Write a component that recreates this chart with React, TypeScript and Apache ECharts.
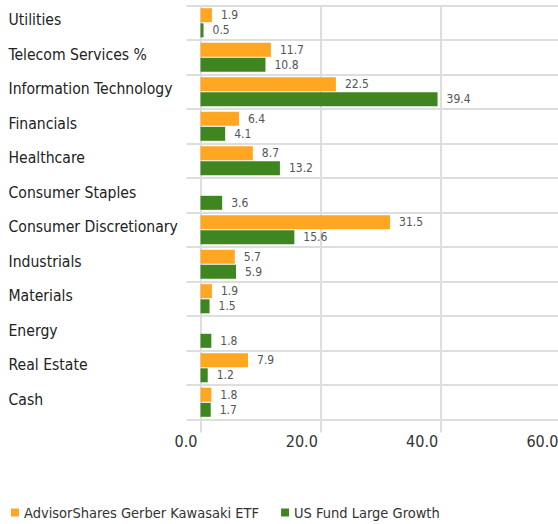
import React, { useEffect, useRef } from "react";
import * as echarts from "echarts";

const categories = [
  "Utilities",
  "Telecom Services %",
  "Information Technology",
  "Financials",
  "Healthcare",
  "Consumer Staples",
  "Consumer Discretionary",
  "Industrials",
  "Materials",
  "Energy",
  "Real Estate",
  "Cash",
];
const fundName = "AdvisorShares Gerber Kawasaki ETF";
const peerName = "US Fund Large Growth";
const fundValues: (number | null)[] = [1.9, 11.7, 22.5, 6.4, 8.7, null, 31.5, 5.7, 1.9, null, 7.9, 1.8];
const peerValues: (number | null)[] = [0.5, 10.8, 39.4, 4.1, 13.2, 3.6, 15.6, 5.9, 1.5, 1.8, 1.2, 1.7];
const xTicks = { min: 0, max: 60, interval: 20 };

const FONT = "'Liberation Sans Narrow', 'DejaVu Sans Condensed', Roboto, sans-serif";
const GRID = "#dedede";

export default function App() {
  const ref = useRef<HTMLDivElement>(null);
  useEffect(() => {
    if (!ref.current) return;
    const chart = echarts.init(ref.current, undefined, { renderer: "svg" });
    const label = {
      show: true,
      position: "right" as const,
      distance: 9,
      fontSize: 12,
      color: "#555",
      fontFamily: FONT,
      formatter: (p: any) => (p.value == null ? "" : Number(p.value).toFixed(1)),
    };
    chart.setOption({
      animation: false,
      textStyle: { fontFamily: FONT },
      grid: {
        left: 200.5,
        top: 5.5,
        width: 361,
        height: 414,
        containLabel: false,
        outerBoundsMode: "none",
      },
      legend: {
        left: 6,
        top: 500,
        icon: "rect",
        itemWidth: 8,
        itemHeight: 8,
        itemGap: 22,
        textStyle: { fontSize: 14.5, color: "#333", fontFamily: FONT },
        data: [fundName, peerName],
      },
      xAxis: {
        type: "value",
        min: xTicks.min,
        max: xTicks.max,
        interval: xTicks.interval,
        axisLine: { show: false },
        axisTick: { show: true, length: 13, lineStyle: { color: GRID, width: 2 } },
        splitLine: { show: true, lineStyle: { color: GRID, width: 2 } },
        axisLabel: {
          fontSize: 16,
          color: "#333",
          margin: 14,
          align: "right",
          padding: [0, 3, 0, 0],
          fontFamily: FONT,
          hideOverlap: false,
          formatter: (v: number) => v.toFixed(1),
        },
      },
      yAxis: {
        type: "category",
        data: categories,
        inverse: true,
        axisLine: { show: false },
        axisTick: { show: true, length: 14, lineStyle: { color: GRID, width: 2 } },
        splitLine: { show: true, lineStyle: { color: GRID, width: 2 } },
        axisLabel: {
          align: "left",
          verticalAlign: "bottom",
          lineHeight: 5,
          margin: 192,
          fontSize: 15.6,
          color: "#222",
          fontFamily: FONT,
        },
      },
      series: [
        {
          name: fundName,
          type: "bar",
          data: fundValues,
          barWidth: 14,
          barGap: "8%",
          itemStyle: { color: "#FFA623" },
          label,
        },
        {
          name: peerName,
          type: "bar",
          data: peerValues,
          barWidth: 14,
          barGap: "8%",
          itemStyle: { color: "#3F8520" },
          label,
        },
      ],
    });
    return () => chart.dispose();
  }, []);
  return <div ref={ref} style={{ width: 558, height: 524, position: "absolute", left: 0, top: 0 }} />;
}
